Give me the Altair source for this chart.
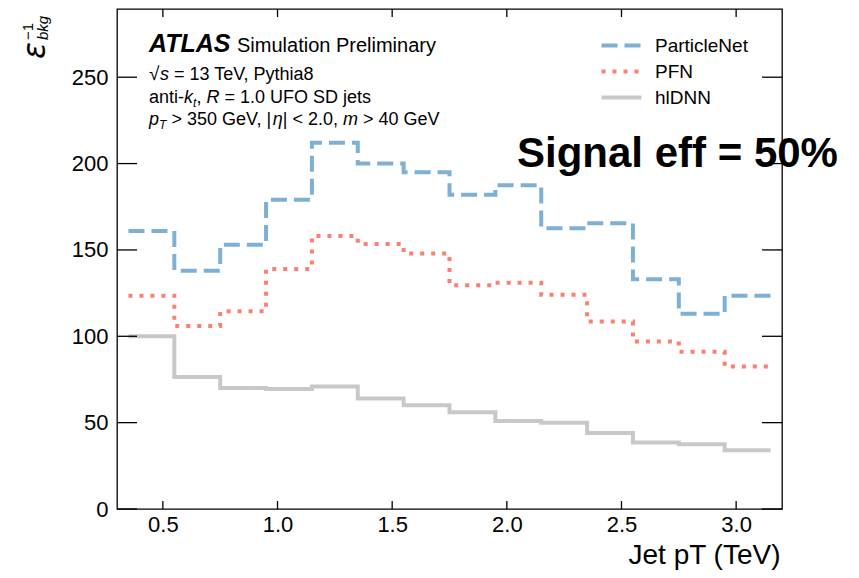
import altair as alt
import pandas as pd

# ---------------- data ----------------
bin_edges = [0.35, 0.55, 0.75, 0.95, 1.15, 1.35, 1.55, 1.75, 1.95, 2.15, 2.35, 2.55, 2.75, 2.95, 3.15]
series_names = ["ParticleNet", "PFN", "hlDNN"]
particlenet = [161, 138, 153, 179, 212, 200, 195, 182, 187.5, 162.5, 165.5, 133, 113, 123.5]
pfn = [123.5, 106, 114.5, 139, 158, 153.5, 148, 129.5, 131, 124, 108.5, 97, 91, 82.5]
hldnn = [100, 76.5, 70, 69.5, 71, 64, 60, 56, 51, 50, 44, 38.5, 37.5, 34]
y_ticks = [0, 50, 100, 150, 200, 250]
x_ticks = [0.5, 1.0, 1.5, 2.0, 2.5, 3.0]

colors = ["#7eb0d5", "#fd7f6f", "#c8c8c8"]
dashes = [[16, 7], [4, 7], [1, 0]]

rows = []
for name, vals in zip(series_names, [particlenet, pfn, hldnn]):
    for i, e in enumerate(bin_edges):
        v = vals[i] if i < len(vals) else vals[-1]
        rows.append({"series": name, "pt": e, "eff": v, "order": i})
df = pd.DataFrame(rows)

W, H = 665, 500
FONT = "Liberation Sans"

xs = alt.Scale(domain=[0.3, 3.2], nice=False, zero=False)
ys = alt.Scale(domain=[0, 289.5], nice=False, zero=False)

x_axis = alt.Axis(values=x_ticks, format=".1f", ticks=False, domain=False, grid=False,
                  labelFontSize=22, labelPadding=5, title="Jet pT (TeV)",
                  titleFontSize=28, titleFontWeight="normal", titleAlign="right",
                  titleX=W - 2, titleY=54, titleBaseline="alphabetic")
y_axis = alt.Axis(values=y_ticks, ticks=False, domain=False, grid=False,
                  labelFontSize=22, labelPadding=9, title=None)

leg = alt.Legend(title=None, orient="none", legendX=495, legendY=27)

lines = alt.Chart(df).mark_line(interpolate="step-after", strokeWidth=4).encode(
    x=alt.X("pt:Q", scale=xs, axis=x_axis),
    y=alt.Y("eff:Q", scale=ys, axis=y_axis),
    color=alt.Color("series:N", scale=alt.Scale(domain=series_names, range=colors), legend=leg),
    strokeDash=alt.StrokeDash("series:N", scale=alt.Scale(domain=series_names, range=dashes), legend=leg),
    order="order:Q",
)

yt = pd.DataFrame({"v": y_ticks})
xt = pd.DataFrame({"v": x_ticks})
tick_style = dict(color="black", strokeWidth=1.3)
left_ticks = alt.Chart(yt).mark_rule(**tick_style).encode(
    y=alt.Y("v:Q", scale=ys, axis=y_axis), x=alt.value(0), x2=alt.value(20))
right_ticks = alt.Chart(yt).mark_rule(**tick_style).encode(
    y=alt.Y("v:Q", scale=ys, axis=y_axis), x=alt.value(W - 20), x2=alt.value(W))
top_ticks = alt.Chart(xt).mark_rule(**tick_style).encode(
    x=alt.X("v:Q", scale=xs, axis=x_axis), y=alt.value(0), y2=alt.value(8))
bottom_ticks = alt.Chart(xt).mark_rule(**tick_style).encode(
    x=alt.X("v:Q", scale=xs, axis=x_axis), y=alt.value(H - 8), y2=alt.value(H))

one = pd.DataFrame({"k": [0]})


def txt(s, x, y, size, style="normal", weight="normal", font=FONT, align="left",
        baseline="alphabetic", angle=None):
    kw = dict(text=s, fontSize=size, fontStyle=style, fontWeight=weight, font=font,
              align=align, baseline=baseline, color="black")
    if angle is not None:
        kw["angle"] = angle
    return alt.Chart(one).mark_text(**kw).encode(x=alt.value(x), y=alt.value(y))


texts = [
    txt("ATLAS", 32, 43, 25, style="italic", weight="bold"),
    txt("Simulation Preliminary", 120, 43, 20),
    # line 2
    txt("\u221a", 32, 71, 19),
    txt("s", 43, 71, 18, style="italic"),
    txt("= 13 TeV, Pythia8", 57, 71, 18),
    # line 3
    txt("anti-", 32, 94, 18),
    txt("k", 67, 94, 18, style="italic"),
    txt("t", 76, 98, 12, style="italic"),
    txt(",", 79.5, 94, 18),
    txt("R", 89.5, 94, 18, style="italic"),
    txt("= 1.0 UFO SD jets", 107.5, 94, 18),
    # line 4
    txt("p", 32, 116, 18, style="italic"),
    txt("T", 42, 120, 12, style="italic"),
    txt("> 350 GeV, |", 54.5, 116, 18),
    txt("\u03b7", 155.8, 116, 18, style="italic"),
    txt("| < 2.0,", 165.8, 116, 18),
    txt("m", 226, 116, 18, style="italic"),
    txt("> 40 GeV", 246, 116, 18),
    # big annotation
    txt("Signal eff = 50%", 400, 158, 42, weight="bold"),
    # y axis label: epsilon_bkg^-1 (rotated)
    txt("\u03b5", -72, 50, 31, style="italic", font="DejaVu Sans", angle=270),
    txt("bkg", -69, 31, 15, style="italic", angle=270),
    txt("\u22121", -84, 31, 15, angle=270),
]

chart = alt.layer(lines, left_ticks, right_ticks, top_ticks, bottom_ticks, *texts).properties(
    width=W, height=H,
    autosize=alt.AutoSizeParams(type="none"),
    padding={"left": 109, "top": 1, "right": 60, "bottom": 61},
).configure(font=FONT).configure_view(
    stroke="black", strokeWidth=1.3
).configure_axis(
    labelFont=FONT, titleFont=FONT, labelColor="black", titleColor="black"
).configure_legend(
    symbolType="M-4,0H4", symbolSize=100, symbolStrokeWidth=4, labelFontSize=19,
    labelFont=FONT, labelColor="black", labelOffset=24, rowPadding=6, padding=0,
)

chart.save("out.html", embed_options={"renderer": "svg", "actions": False})
